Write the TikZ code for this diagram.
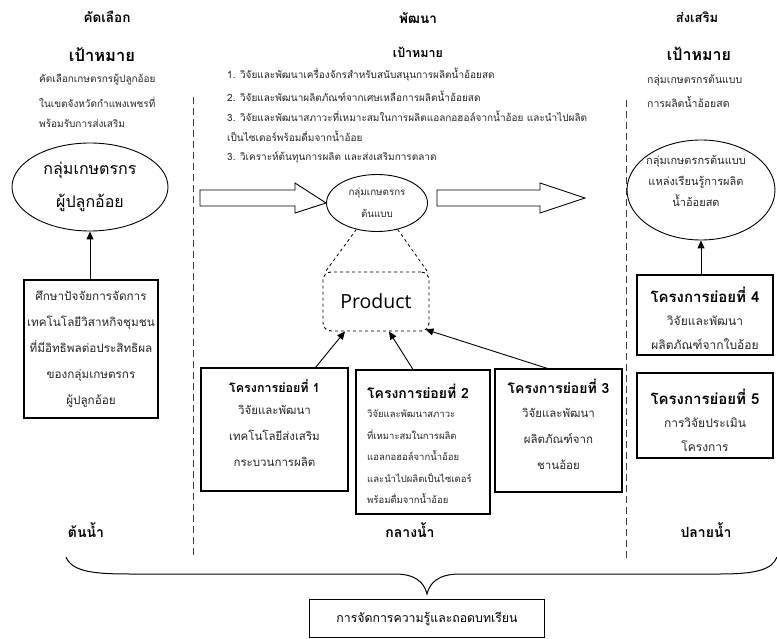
\documentclass[tikz,border=0pt]{standalone}
\usepackage{fontspec}
\setmainfont{Loma}[Script=Thai]
\newfontfamily\latinsans{Open Sans}
\usetikzlibrary{arrows.meta,shapes.geometric,calc}

\tikzset{
  hdr/.style={font=\bfseries\fontsize{13.5}{18}\selectfont, inner sep=0},
  goalbig/.style={font=\bfseries\fontsize{16.5}{20}\selectfont, inner sep=0},
  goaltxt/.style={font=\fontsize{10}{20}\selectfont, anchor=west, inner sep=0, text=black!85},
  framebox/.style={draw, line width=1.1pt, inner sep=0},
  oval/.style={ellipse, draw, line width=0.9pt, inner sep=0},
  boxtitle/.style={font=\bfseries\fontsize{12.5}{16}\selectfont, inner sep=0},
  boxbody/.style={font=\fontsize{11.5}{26}\selectfont, align=center, inner sep=0, text=black!85},
  arr/.style={-{Triangle[length=8pt,width=7pt]}, line width=0.9pt},
  divider/.style={dash pattern=on 7pt off 4pt, line width=1pt, black!75},
  blockarrow/.style={draw, line width=0.9pt, fill=white},
  place/.style={font=\bfseries\fontsize{14}{18}\selectfont, inner sep=0},
}

\begin{document}
\begin{tikzpicture}[x=1pt,y=-1pt]
\useasboundingbox (0,0) rectangle (777,639);

% column dividers
\coordinate (d1a) at (193,97);  \coordinate (d1b) at (193,556);
\coordinate (d2a) at (626,100); \coordinate (d2b) at (626,560);
\draw[divider] (d1a) -- (d1b);
\draw[divider] (d2a) -- (d2b);

% column headings
\node[hdr] (h1) at (107,17) {คัดเลือก};
\node[hdr] (h2) at (418,18) {พัฒนา};
\node[hdr, font=\bfseries\fontsize{13}{18}\selectfont] (h3) at (697,17) {ส่งเสริม};
\node[goalbig] (g1) at (102,55) {เป้าหมาย};
\node[hdr, font=\bfseries\fontsize{12.5}{16}\selectfont] (g2) at (418,52) {เป้าหมาย};
\node[goalbig, font=\bfseries\fontsize{16}{20}\selectfont] (g3) at (699,54) {เป้าหมาย};

% goals, left column
\node[goaltxt] (l1) at (39,80)  {คัดเลือกเกษตรกรผู้ปลูกอ้อย};
\node[goaltxt] (l2) at (39,102) {ในเขตจังหวัดกำแพงเพชรที่};
\node[goaltxt] (l3) at (39,123) {พร้อมรับการส่งเสริม};

% goals, middle column
\node[goaltxt] (m1) at (227,75)  {1. วิจัยและพัฒนาเครื่องจักรสำหรับสนับสนุนการผลิตน้ำอ้อยสด};
\node[goaltxt] (m2) at (227,96)  {2. วิจัยและพัฒนาผลิตภัณฑ์จากเศษเหลือการผลิตน้ำอ้อยสด};
\node[goaltxt] (m3) at (227,116) {3. วิจัยและพัฒนาสภาวะที่เหมาะสมในการผลิตแอลกอฮอล์จากน้ำอ้อย และนำไปผลิต};
\node[goaltxt] (m4) at (227,136) {เป็นไซเดอร์พร้อมดื่มจากน้ำอ้อย};
\node[goaltxt] (m5) at (227,157) {3. วิเคราะห์ต้นทุนการผลิต และส่งเสริมการตลาด};

% goals, right column
\node[goaltxt, font=\fontsize{10.5}{20}\selectfont] (r1) at (647,80)  {กลุ่มเกษตรกรต้นแบบ};
\node[goaltxt, font=\fontsize{10.5}{20}\selectfont] (r2) at (647,102) {การผลิตน้ำอ้อยสด};

% left column: farmer group and study
\node[oval, minimum width=156, minimum height=88,
      font=\fontsize{16}{33}\selectfont, align=center] (e1) at (90,187)
      {กลุ่มเกษตรกร\\ผู้ปลูกอ้อย};
\node[framebox, minimum width=134, minimum height=138] (b0) at (91,349) {};
\node[boxbody, font=\fontsize{11.7}{26}\selectfont] (b0b) at (91,349)
  {ศึกษาปัจจัยการจัดการ\\เทคโนโลยีวิสาหกิจชุมชน\\ที่มีอิทธิพลต่อประสิทธิผล\\ของกลุ่มเกษตรกร\\ผู้ปลูกอ้อย};
\draw[arr] (b0.north -| e1.south) -- (e1.south);

% middle column: prototype group and product
\node[oval, minimum width=101, minimum height=57,
      font=\fontsize{9.8}{22}\selectfont, align=center, text=black!85] (e2) at (377,203)
      {กลุ่มเกษตรกร\\ต้นแบบ};
\node[draw, dashed, line width=0.9pt, rounded corners=8pt, minimum width=106,
      minimum height=59, inner sep=0, font=\latinsans\fontsize{19.5}{22}\selectfont]
      (prod) at (376,301.5) {Product};
\draw[dashed, line width=0.8pt] (e2.232) -- ([xshift=3pt]prod.north west);
\draw[dashed, line width=0.8pt] (e2.308) -- ([xshift=-2pt]prod.north east);

% block arrows between the columns
\draw[blockarrow] (200,190) -- (295,190) -- (295,183) -- (e2.west) -- (295,213)
  -- (295,206) -- (200,206) -- cycle;
\draw[blockarrow] (437,190) -- (540,190) -- (540,183) -- (585,198) -- (540,213)
  -- (540,206) -- (437,206) -- cycle;

% sub-projects 1-3
\node[framebox, minimum width=147, minimum height=123] (b1) at (274.5,429.5) {};
\node[boxtitle] (b1t) at (274.5,386) {โครงการย่อยที่ 1};
\node[boxbody] (b1b) at (274.5,436) {วิจัยและพัฒนา\\เทคโนโลยีส่งเสริม\\กระบวนการผลิต};

\node[framebox, minimum width=134, minimum height=144] (b2) at (423,442) {};
\node[boxtitle, font=\bfseries\fontsize{14}{18}\selectfont, anchor=west] (b2t) at (367,391) {โครงการย่อยที่ 2};
\node[boxbody, font=\fontsize{9.5}{21.5}\selectfont, align=left, anchor=west] (b2b) at (367,457)
  {วิจัยและพัฒนาสภาวะ\\ที่เหมาะสมในการผลิต\\แอลกอฮอล์จากน้ำอ้อย\\และนำไปผลิตเป็นไซเดอร์\\พร้อมดื่มจากน้ำอ้อย};

\node[framebox, minimum width=127, minimum height=123] (b3) at (558.5,430.5) {};
\node[boxtitle, font=\bfseries\fontsize{14}{18}\selectfont] (b3t) at (558.5,386) {โครงการย่อยที่ 3};
\node[boxbody] (b3b) at (558.5,439) {วิจัยและพัฒนา\\ผลิตภัณฑ์จาก\\ชานอ้อย};

\draw[arr] ([xshift=41pt]b1.north) -- ([xshift=-31pt]prod.south);
\draw[arr] ([xshift=-10pt]b2.north) -- ([xshift=13pt]prod.south);
\draw[arr] ([xshift=-11pt]b3.north) -- ([xshift=-4pt,yshift=2pt]prod.south east);

% right column: learning centre and sub-projects 4-5
\node[oval, minimum width=148, minimum height=100] (e3) at (701,190) {};
\node[boxbody, font=\fontsize{11}{21}\selectfont] (e3t) at (696,181)
  {กลุ่มเกษตรกรต้นแบบ\\แหล่งเรียนรู้การผลิต\\น้ำอ้อยสด};

\node[framebox, minimum width=136, minimum height=80] (b4) at (705,315) {};
\node[boxtitle, font=\bfseries\fontsize{15}{18}\selectfont] (b4t) at (705,295) {โครงการย่อยที่ 4};
\node[boxbody, font=\fontsize{12}{24}\selectfont] (b4b) at (705,333) {วิจัยและพัฒนา\\ผลิตภัณฑ์จากใบอ้อย};

\node[framebox, minimum width=136, minimum height=85] (b5) at (705,415.5) {};
\node[boxtitle, font=\bfseries\fontsize{15}{18}\selectfont] (b5t) at (705,397) {โครงการย่อยที่ 5};
\node[boxbody, font=\fontsize{12}{24}\selectfont] (b5b) at (705,435) {การวิจัยประเมิน\\โครงการ};

\draw[arr] (b4.north -| e3.south) -- (e3.south);

% stream labels
\node[place] (p1) at (86,530)  {ต้นน้ำ};
\node[place] (p2) at (410,530) {กลางน้ำ};
\node[place] (p3) at (706,530) {ปลายน้ำ};

% brace gathering the three stages
\coordinate (brL) at (66,557);
\coordinate (brR) at (777,557);
\coordinate (brTip) at (427,594);
\draw[line width=1pt] (brL) .. controls (72,572) and (95,574) .. (130,574)
  -- (395,574) .. controls (415,574) and (424,582) .. (brTip)
  .. controls (430,582) and (439,574) .. (460,574)
  -- (720,574) .. controls (755,574) and (772,570) .. (brR);

% knowledge management box
\node[framebox, minimum width=235, minimum height=38,
      font=\fontsize{12.3}{16}\selectfont] (km) at (427,618.5) {การจัดการความรู้และถอดบทเรียน};

\end{tikzpicture}
\end{document}
